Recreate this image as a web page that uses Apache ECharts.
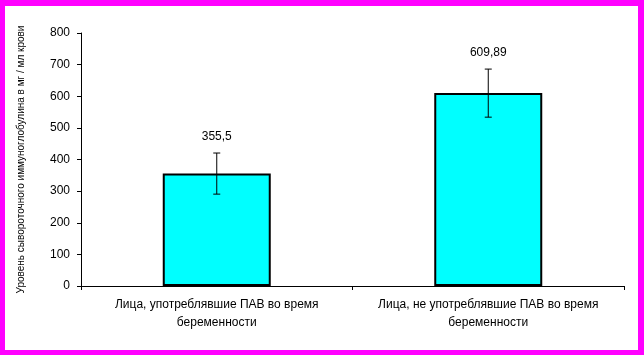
<!DOCTYPE html>
<html>
<head>
<meta charset="utf-8">
<script src="https://cdn.jsdelivr.net/npm/echarts@6/dist/echarts.min.js"></script>
<style>
  html, body { margin: 0; padding: 0; background: #ff00ff; }
  #ch1 { position: absolute; left: 5px; top: 6px; width: 633px; height: 344px; background: #fff; }
</style>
</head>
<body>
<div id="ch1"></div>
<script>
var categories = ['Лица, употреблявшие ПАВ во время\nбеременности', 'Лица, не употреблявшие ПАВ во время\nбеременности'];
var means = [355.5, 609.89];
var errors = [65, 76];
var yTitle = 'Уровень сывороточного иммуноглобулина в мг / мл крови';

window.onload = function() {
  var ch1 = echarts.init(document.getElementById('ch1'));

  var errData = means.map(function(m, i) {
    return [i, m - errors[i], m + errors[i], m];
  });

  var op1 = {
    animation: false,
    textStyle: { fontFamily: 'Arial, "Liberation Sans", sans-serif' },
    grid: {
      left: 76,
      right: 14,
      top: 27,
      bottom: 64
    },
    xAxis: {
      type: 'category',
      data: categories,
      axisLine: { lineStyle: { color: '#000', width: 1 } },
      axisTick: { show: true, length: 4, lineStyle: { color: '#000' } },
      axisLabel: { color: '#000', fontSize: 12, margin: 10, lineHeight: 18, interval: 0 }
    },
    yAxis: {
      type: 'value',
      min: 0,
      max: 800,
      interval: 100,
      name: yTitle,
      nameLocation: 'middle',
      nameGap: 55,
      nameTextStyle: { color: '#000', fontSize: 10 },
      axisLine: { show: true, lineStyle: { color: '#000', width: 1 } },
      axisTick: { show: true, length: 4, lineStyle: { color: '#000' } },
      axisLabel: { color: '#000', fontSize: 12, margin: 11 },
      splitLine: { show: false }
    },
    series: [{
      type: 'bar',
      data: means,
      barWidth: 108,
      itemStyle: {
        color: '#00ffff',
        borderColor: '#000',
        borderWidth: 2
      }
    }, {
      type: 'custom',
      data: errData,
      z: 10,
      renderItem: function(params, api) {
        var x = api.value(0);
        var lo = api.coord([x, api.value(1)]);
        var hi = api.coord([x, api.value(2)]);
        var cap = 3.5;
        var st = { stroke: '#000', lineWidth: 1 };
        var txt = String(api.value(3)).replace('.', ',');
        return {
          type: 'group',
          children: [
            { type: 'line', shape: { x1: lo[0], y1: lo[1], x2: hi[0], y2: hi[1] }, style: st },
            { type: 'line', shape: { x1: lo[0] - cap, y1: lo[1], x2: lo[0] + cap, y2: lo[1] }, style: st },
            { type: 'line', shape: { x1: hi[0] - cap, y1: hi[1], x2: hi[0] + cap, y2: hi[1] }, style: st },
            { type: 'text', x: hi[0], y: hi[1] - 16, style: {
              text: txt, fill: '#000', fontSize: 12,
              fontFamily: 'Arial, "Liberation Sans", sans-serif',
              align: 'center', verticalAlign: 'middle'
            } }
          ]
        };
      }
    }]
  };

  ch1.setOption(op1);
};
</script>
</body>
</html>
